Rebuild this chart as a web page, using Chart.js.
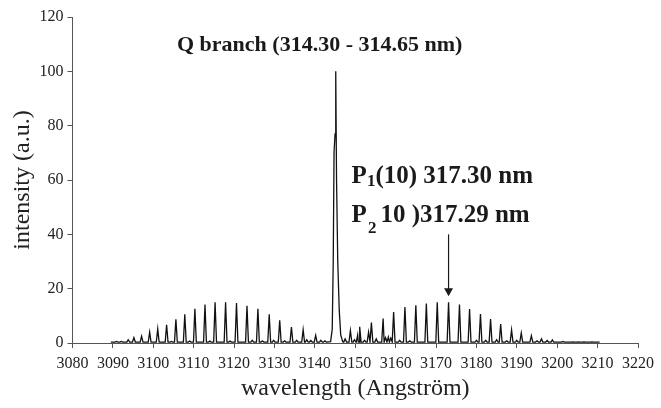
<!DOCTYPE html>
<html>
<head>
<meta charset="utf-8">
<script src="https://cdn.jsdelivr.net/npm/chart.js@4.4.1/dist/chart.umd.min.js"></script>
<style>
  body { margin: 0; background: #fff; }
  canvas { display: block; }
</style>
</head>
<body>
<canvas id="grafico" width="661" height="408"></canvas>
<script>
// main rotational lines (Angstrom, a.u.)
var peakWave = [3090.9, 3092.1, 3093.8, 3095.2, 3097.1, 3099.1, 3101.1, 3103.3, 3105.6, 3107.8,
    3110.3, 3112.8, 3115.3, 3117.9, 3120.6, 3123.2, 3125.9, 3128.7, 3131.3, 3134.2,
    3137.1, 3140.2,
    3148.8, 3151.1, 3154.0, 3156.9, 3159.5, 3162.3, 3165.0, 3167.6, 3170.3, 3173.1,
    3175.8, 3178.3, 3181.0, 3183.5, 3186.0, 3188.7, 3191.1, 3193.6, 3196.1, 3198.8,
    3201.4, 3203.8, 3205.2, 3206.6, 3208.6, 3209.4];
var peakInt = [0.6, 0.6, 1.2, 2.0, 2.5, 4.0, 5.2, 6.7, 8.7, 10.6,
    12.6, 14.2, 15.0, 15.0, 14.7, 13.7, 12.6, 10.6, 8.4, 5.9,
    4.9, 2.8,
    4.6, 6.0, 7.5, 9.0, 11.4, 13.2, 13.9, 14.5, 15.0, 15.0,
    14.2, 12.5, 10.7, 8.8, 7.0, 4.8, 3.7, 2.7, 1.5, 1.1,
    0.6, 0.4, 0.4, 0.4, 0.4, 0.3];

// weak satellite lines
var minorWave = [3104.5, 3109.0, 3114.0, 3119.0, 3124.5, 3127.0, 3129.8, 3132.5, 3135.5, 3138.0,
    3139.0, 3141.5, 3142.5, 3147.5, 3149.8, 3150.6, 3152.3, 3153.3, 3155.2, 3157.5,
    3158.2, 3158.8, 3161.0, 3163.5, 3180.0, 3182.3, 3185.0, 3187.5, 3190.0, 3195.0, 3197.5];
var minorInt = [0.6, 0.7, 0.7, 0.7, 1.0, 0.8, 1.0, 0.8, 1.0, 1.2,
    0.9, 1.0, 0.8, 1.5, 1.2, 3.0, 1.0, 4.0, 1.5, 2.0,
    2.2, 1.8, 1.0, 0.8, 1.0, 1.0, 1.2, 0.8, 1.0, 0.8, 0.9];

// Q branch profile
var qWave = [3143.9, 3144.3, 3144.55, 3144.75, 3145.0, 3145.17, 3145.37, 3145.67, 3146.04, 3146.4, 3146.9];
var qInt = [0.5, 5, 30, 70, 77, 100, 60, 30, 12, 3, 0.5];

var xTicks = [3080, 3090, 3100, 3110, 3120, 3130, 3140, 3150, 3160, 3170, 3180, 3190, 3200, 3210, 3220];
var yTicks = [0, 20, 40, 60, 80, 100, 120];

var baseLevel = 0.35;
var traceStart = 3089.5;
var traceEnd = 3210.5;

function montarEspectro() {
    var hw = 0.35;
    var pts = [{ x: traceStart, y: baseLevel }, { x: traceEnd, y: baseLevel }];
    function linha(w, h) {
        pts.push({ x: w - hw, y: baseLevel });
        pts.push({ x: w, y: h });
        pts.push({ x: w + hw, y: baseLevel });
    }
    peakWave.forEach(function (w, i) { linha(w, peakInt[i]); });
    minorWave.forEach(function (w, i) { linha(w, minorInt[i]); });
    qWave.forEach(function (w, i) { pts.push({ x: w, y: qInt[i] }); });
    pts.sort(function (a, b) { return a.x - b.x; });
    return pts;
}

var serif = '"Liberation Serif", "Times New Roman", serif';

var anotacoes = {
    id: 'anotacoes',
    afterDatasetsDraw: function (chart) {
        var ctx = chart.ctx;
        var sx = chart.scales.x, sy = chart.scales.y;
        ctx.save();
        ctx.fillStyle = '#1a1a1a';
        ctx.textBaseline = 'alphabetic';

        ctx.font = 'bold 22px ' + serif;
        ctx.textAlign = 'center';
        ctx.fillText('Q branch (314.30 - 314.65 nm)', sx.getPixelForValue(3141.2), sy.getPixelForValue(107.5));

        ctx.textAlign = 'left';
        var x0 = sx.getPixelForValue(3149.1);
        var y1 = sy.getPixelForValue(58.8);
        var y2 = sy.getPixelForValue(44.4);

        ctx.font = 'bold 25px ' + serif;
        ctx.fillText('P', x0, y1);
        var x = x0 + ctx.measureText('P').width;
        ctx.font = 'bold 17px ' + serif;
        ctx.fillText('1', x, y1 + 3);
        x += ctx.measureText('1').width;
        ctx.font = 'bold 25px ' + serif;
        ctx.fillText('(10) 317.30 nm', x, y1);

        ctx.fillText('P', x0, y2);
        x = x0 + ctx.measureText('P').width + 1;
        ctx.font = 'bold 17px ' + serif;
        ctx.fillText('2', x, y2 + 11);
        x += ctx.measureText('2').width + 4;
        ctx.font = 'bold 25px ' + serif;
        ctx.fillText('10 )317.29 nm', x, y2);

        // arrow to the P1/P2 line
        var ax = sx.getPixelForValue(3173.1);
        var top = sy.getPixelForValue(40);
        var tip = sy.getPixelForValue(17.2);
        ctx.strokeStyle = '#1a1a1a';
        ctx.lineWidth = 1.2;
        ctx.beginPath();
        ctx.moveTo(ax, top);
        ctx.lineTo(ax, tip - 6);
        ctx.stroke();
        ctx.beginPath();
        ctx.moveTo(ax - 4.5, tip - 8);
        ctx.lineTo(ax + 4.5, tip - 8);
        ctx.lineTo(ax, tip);
        ctx.closePath();
        ctx.fill();
        ctx.restore();
    }
};

var ctx = document.getElementById('grafico').getContext('2d');
var chart = new Chart(ctx, {
    type: 'line',
    data: {
        datasets: [{
            label: 'espectro',
            data: montarEspectro(),
            borderColor: '#111',
            borderWidth: 1.3,
            pointRadius: 0,
            tension: 0,
            fill: false
        }]
    },
    options: {
        responsive: false,
        animation: false,
        devicePixelRatio: 1,
        layout: { padding: { left: 0, top: 17, right: 23, bottom: 0 } },
        plugins: { legend: { display: false }, tooltip: { enabled: false } },
        scales: {
            x: {
                type: 'linear',
                min: xTicks[0],
                max: xTicks[xTicks.length - 1],
                afterBuildTicks: function (s) { s.ticks = xTicks.map(function (v) { return { value: v }; }); },
                afterFit: function (s) { s.height = 65; },
                grid: { drawOnChartArea: false, drawTicks: true, tickLength: 5, color: '#555' },
                border: { color: '#555', width: 1 },
                ticks: {
                    autoSkip: false, maxRotation: 0, padding: 6,
                    color: '#222',
                    font: { family: serif, size: 16 },
                    callback: function (v) { return String(v); }
                },
                title: {
                    display: true,
                    text: 'wavelength (Angström)',
                    color: '#222',
                    font: { family: serif, size: 24 },
                    padding: { top: 0, bottom: 5 }
                }
            },
            y: {
                min: yTicks[0],
                max: yTicks[yTicks.length - 1],
                afterBuildTicks: function (s) { s.ticks = yTicks.map(function (v) { return { value: v }; }); },
                afterFit: function (s) { s.width = 72.5; },
                grid: { drawOnChartArea: false, drawTicks: true, tickLength: 5, color: '#555' },
                border: { color: '#555', width: 1 },
                ticks: {
                    padding: 4,
                    color: '#222',
                    font: { family: serif, size: 16 },
                    callback: function (v) { return String(v); }
                },
                title: {
                    display: true,
                    text: 'intensity (a.u.)',
                    color: '#222',
                    font: { family: serif, size: 24 },
                    padding: { top: 8, bottom: 0 }
                }
            }
        }
    },
    plugins: [anotacoes]
});
</script>
</body>
</html>
